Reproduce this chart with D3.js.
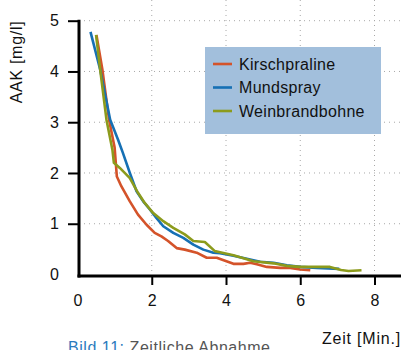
<!DOCTYPE html>
<html>
<head>
<meta charset="utf-8">
<script src="https://cdn.jsdelivr.net/npm/d3@7"></script>
<style>
  body { margin: 0; background: #fff; }
  svg { display: block; font-family: "Liberation Sans", Arial, sans-serif; }
</style>
</head>
<body>
<svg id="chart" width="404" height="350"></svg>
<script>
// values
var seriesNames = ["Kirschpraline", "Mundspray", "Weinbrandbohne"];
var seriesColors = ["#d4532a", "#1670b4", "#8c9b1c"];

var kirschTime = [0.51, 0.67, 0.85, 1.0, 1.06, 1.18, 1.41, 1.63, 1.86, 2.08, 2.26, 2.44, 2.67, 2.89, 3.21, 3.48, 3.75, 3.9, 4.2, 4.47, 4.65, 4.83, 5.1, 5.46, 5.73, 6.0, 6.27];
var kirschValue = [4.72, 4.04, 3.05, 2.5, 1.93, 1.74, 1.44, 1.18, 0.98, 0.82, 0.75, 0.66, 0.52, 0.49, 0.43, 0.33, 0.33, 0.29, 0.21, 0.21, 0.23, 0.2, 0.15, 0.13, 0.13, 0.1, 0.085];

var mundTime = [0.35, 0.61, 0.88, 1.09, 1.22, 1.41, 1.59, 1.77, 1.95, 2.13, 2.31, 2.58, 2.85, 3.12, 3.39, 3.66, 3.84, 4.06, 4.2, 4.56, 4.92, 5.28, 5.64, 6.0, 6.45, 7.05];
var mundValue = [4.78, 4.04, 3.05, 2.66, 2.4, 2.0, 1.64, 1.44, 1.28, 1.11, 0.95, 0.82, 0.72, 0.59, 0.49, 0.43, 0.42, 0.39, 0.37, 0.31, 0.25, 0.23, 0.18, 0.15, 0.13, 0.11];

var weinTime = [0.5, 0.61, 0.78, 0.94, 0.98, 1.14, 1.41, 1.63, 1.81, 2.04, 2.31, 2.58, 2.89, 3.12, 3.43, 3.7, 3.84, 4.2, 4.74, 5.28, 5.64, 6.0, 6.8, 7.1, 7.3, 7.65];
var weinValue = [4.72, 4.04, 3.05, 2.46, 2.2, 2.1, 1.9, 1.61, 1.41, 1.21, 1.05, 0.92, 0.79, 0.66, 0.64, 0.46, 0.44, 0.38, 0.26, 0.22, 0.17, 0.15, 0.15, 0.09, 0.07, 0.085];

var xTicks = [0, 2, 4, 6, 8];
var yTicks = [0, 1, 2, 3, 4, 5];

var svg = d3.select("#chart");

var x = d3.scaleLinear().domain([0, 8]).range([77.5, 374.5]);
var y = d3.scaleLinear().domain([0, 5]).range([274.5, 20.7]);

var axisX = x(0) + 1.5, axisY = y(0) + 1.5;

// dotted grid
svg.append("g").selectAll("line")
  .data(xTicks.filter(d => d > 0))
  .enter().append("line")
  .attr("x1", d => x(d)).attr("x2", d => x(d))
  .attr("y1", 0).attr("y2", axisY)
  .attr("stroke", "#a8a8a8").attr("stroke-width", 1)
  .attr("stroke-dasharray", "1,4");

svg.append("g").selectAll("line")
  .data(yTicks.filter(d => d > 0))
  .enter().append("line")
  .attr("x1", axisX).attr("x2", 404)
  .attr("y1", d => y(d)).attr("y2", d => y(d))
  .attr("stroke", "#a8a8a8").attr("stroke-width", 1)
  .attr("stroke-dasharray", "1,4");

// curves
var series = [
  { t: kirschTime, v: kirschValue },
  { t: mundTime, v: mundValue },
  { t: weinTime, v: weinValue }
];

var line = d3.line()
  .x(d => x(d[0]))
  .y(d => y(d[1]));

series.forEach(function(s, i){
  var pts = s.t.map((t, j) => [t, s.v[j]]);
  svg.append("path")
    .datum(pts)
    .attr("d", line)
    .attr("fill", "none")
    .attr("stroke", seriesColors[i])
    .attr("stroke-width", 2.6)
    .attr("stroke-linejoin", "round");
});

// axes (ticks + labels from d3, thick lines drawn separately)
var gy = svg.append("g")
  .attr("transform", "translate(" + axisX + ",0)")
  .call(d3.axisLeft(y).tickValues(yTicks).tickSize(11).tickPadding(9).tickFormat(d3.format("d")));
var gx = svg.append("g")
  .attr("transform", "translate(0," + axisY + ")")
  .call(d3.axisBottom(x).tickValues(xTicks).tickSize(9).tickPadding(10).tickFormat(d3.format("d")));

[gy, gx].forEach(function(g){
  g.select(".domain").remove();
  g.selectAll(".tick line").attr("stroke", "#000").attr("stroke-width", 2);
  g.selectAll(".tick text").attr("fill", "#111").style("font-size", "16px")
    .style("font-family", "'Liberation Sans', Arial, sans-serif");
  g.selectAll(".tick").filter(d => d === 0).select("line").remove();
});

svg.append("line")
  .attr("x1", axisX).attr("x2", axisX)
  .attr("y1", y(5) - 1).attr("y2", axisY + 1.5)
  .attr("stroke", "#000").attr("stroke-width", 3);
svg.append("line")
  .attr("x1", axisX - 1.5).attr("x2", 401)
  .attr("y1", axisY).attr("y2", axisY)
  .attr("stroke", "#000").attr("stroke-width", 3);

// axis titles
svg.append("text")
  .attr("transform", "translate(22,62) rotate(-90)")
  .attr("text-anchor", "middle")
  .style("font-size", "16px").style("letter-spacing", "0.7px").attr("fill", "#111")
  .text("AAK [mg/l]");

svg.append("text")
  .attr("x", 401).attr("y", 344)
  .attr("text-anchor", "end")
  .style("font-size", "16px").style("letter-spacing", "0.8px").attr("fill", "#111")
  .text("Zeit [Min.]");

// caption, cut off at the bottom edge as in the source
var cap = svg.append("text")
  .attr("x", 68).attr("y", 353)
  .style("font-size", "16px").style("letter-spacing", "0.55px");
cap.append("tspan").attr("fill", "#2b7bbd").text("Bild 11: ");
cap.append("tspan").attr("fill", "#555").text("Zeitliche Abnahme");

// legend
var legend = svg.append("g");
legend.append("rect")
  .attr("x", 205).attr("y", 47)
  .attr("width", 176).attr("height", 87)
  .attr("fill", "#a2bfdc");

seriesNames.forEach(function(name, i){
  var ly = 64 + i * 23.5;
  legend.append("line")
    .attr("x1", 213).attr("x2", 232)
    .attr("y1", ly).attr("y2", ly)
    .attr("stroke", seriesColors[i]).attr("stroke-width", 2.6);
  legend.append("text")
    .attr("x", 239).attr("y", ly + 5.5)
    .style("font-size", "16px").style("letter-spacing", "0.3px").attr("fill", "#111")
    .text(name);
});
</script>
</body>
</html>
